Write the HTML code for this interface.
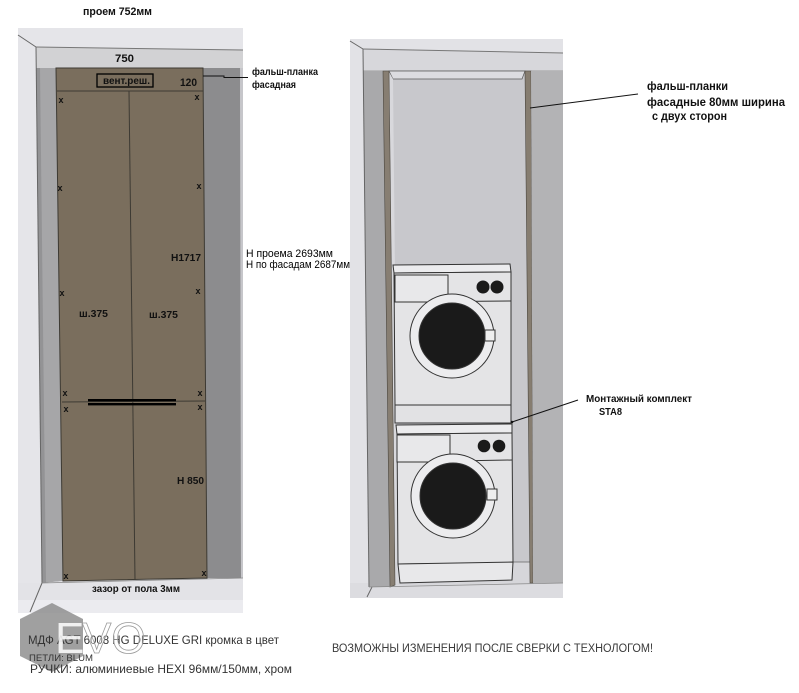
<!DOCTYPE html>
<html><head><meta charset="utf-8"><style>
html,body{margin:0;padding:0;background:#fff;}
svg{display:block;}
text{font-family:"Liberation Sans","DejaVu Sans",sans-serif;}
</style></head><body>
<svg width="799" height="693" viewBox="0 0 799 693" xmlns="http://www.w3.org/2000/svg">
<rect width="799" height="693" fill="#fff"/>

<!-- LEFT PANEL -->
<rect x="18" y="28" width="225" height="585" fill="#e5e5e9"/>
<rect x="18" y="600" width="225" height="13" fill="#ebebef"/>
<line x1="18" y1="35" x2="36" y2="47" stroke="#666" stroke-width="1"/>
<polygon points="36,47 243,50 243,68 36,68" fill="#d2d2d4"/>
<line x1="36" y1="47" x2="243" y2="50" stroke="#777" stroke-width="1"/>
<polygon points="36,68 56,68 63,581 42,583" fill="#a6a6a8"/>
<polygon points="36,68 40,68 46,583 42,583" fill="#939395"/>
<line x1="36" y1="47" x2="42" y2="583" stroke="#666" stroke-width="1"/>
<polygon points="203,68 240,68 243,578 207,578" fill="#8c8c8e"/>
<polygon points="240,68 243,68 243,578 241,578" fill="#c6c6ca"/>
<polygon points="42,583 63,581 207,578 243,578 243,600 18,600 18,583" fill="#e3e3e7"/>
<line x1="42" y1="583" x2="243" y2="578" stroke="#888" stroke-width="0.8"/>
<line x1="42" y1="583" x2="30" y2="612" stroke="#666" stroke-width="1"/>
<polygon points="56,68 203,68 207,578 63,581" fill="#7a6e5d" stroke="#3d3a33" stroke-width="1"/>
<line x1="57" y1="91" x2="203" y2="91" stroke="#3d3a33" stroke-width="1"/>
<line x1="62" y1="402" x2="205" y2="401" stroke="#3d3a33" stroke-width="1"/>
<line x1="129" y1="91" x2="135" y2="580" stroke="#3d3a33" stroke-width="1"/>
<rect x="88" y="399" width="88" height="2.4" fill="#000"/>
<rect x="88" y="403" width="88" height="2.4" fill="#000"/>

<rect x="97" y="74" width="56" height="13" fill="none" stroke="#000" stroke-width="1.3"/>
<g font-weight="bold" fill="#111">
<text x="83" y="15" font-size="11" textLength="69" lengthAdjust="spacingAndGlyphs">проем 752мм</text>
<text x="115" y="62" font-size="11" textLength="19" lengthAdjust="spacingAndGlyphs">750</text>
<text x="103" y="84" font-size="10" textLength="47" lengthAdjust="spacingAndGlyphs">вент.реш.</text>
<text x="180" y="86" font-size="11" textLength="17" lengthAdjust="spacingAndGlyphs">120</text>
<text x="252" y="75" font-size="10.5" textLength="66" lengthAdjust="spacingAndGlyphs">фальш-планка</text>
<text x="252" y="88" font-size="10.5" textLength="44" lengthAdjust="spacingAndGlyphs">фасадная</text>
<text x="171" y="261" font-size="10.5" textLength="30" lengthAdjust="spacingAndGlyphs">H1717</text>
<text x="79" y="317" font-size="10.5" textLength="29" lengthAdjust="spacingAndGlyphs">ш.375</text>
<text x="149" y="318" font-size="10.5" textLength="29" lengthAdjust="spacingAndGlyphs">ш.375</text>
<text x="177" y="484" font-size="10.5" textLength="27" lengthAdjust="spacingAndGlyphs">H 850</text>
<text x="92" y="592" font-size="10.5" textLength="88" lengthAdjust="spacingAndGlyphs">зазор от пола 3мм</text>
</g>
<polyline points="203,76 224,76 224,77.5 248,77.5" fill="none" stroke="#111" stroke-width="1"/>
<g font-weight="bold" fill="#111" font-size="9" text-anchor="middle">
<text x="61" y="103">x</text><text x="197" y="100">x</text>
<text x="60" y="191">x</text><text x="199" y="189">x</text>
<text x="62" y="296">x</text><text x="198" y="294">x</text>
<text x="65" y="396">x</text><text x="200" y="396">x</text>
<text x="66" y="412">x</text><text x="200" y="410">x</text>
<text x="66" y="579">x</text><text x="204" y="576">x</text>
</g>
<g fill="#000" font-size="11">
<text x="246" y="257" textLength="87" lengthAdjust="spacingAndGlyphs">H проема 2693мм</text>
<text x="246" y="268" textLength="104" lengthAdjust="spacingAndGlyphs">H по фасадам 2687мм</text>
</g>

<!-- RIGHT PANEL -->
<rect x="350" y="39" width="213" height="559" fill="#e2e2e6"/>
<line x1="350" y1="41" x2="363" y2="49" stroke="#666" stroke-width="1"/>
<polygon points="363,49 563,53 563,71 363,71" fill="#d7d7db"/>
<line x1="363" y1="49" x2="563" y2="53" stroke="#777" stroke-width="1"/>
<line x1="363" y1="71" x2="563" y2="71" stroke="#888" stroke-width="0.8"/>
<polygon points="350,583 563,583 563,598 350,598" fill="#dcdce0"/>
<polygon points="363,71 383,71 390,587 369,587" fill="#a9a9ab"/>
<line x1="363" y1="49" x2="369" y2="587" stroke="#666" stroke-width="1"/>
<line x1="372" y1="587" x2="367" y2="597" stroke="#666" stroke-width="1"/>
<polygon points="389,71 525,71 530,583 395,585" fill="#c8c8cc"/>
<polygon points="389,71 525,71 522,79 393,79" fill="#dcdce0" stroke="#555" stroke-width="0.7"/>
<polygon points="389,72 393,79 398,565 395,585" fill="#d8d8dc"/>
<polygon points="395,562 530,562 530,583 395,585" fill="#d6d6da"/>
<line x1="512" y1="562" x2="530" y2="562" stroke="#666" stroke-width="0.7"/>
<polygon points="383,71 389,71 395,585 390,587" fill="#877e72" stroke="#4a463f" stroke-width="0.6"/>
<polygon points="525,71 531,71 533,583 530,583" fill="#867d70" stroke="#4a463f" stroke-width="0.6"/>
<polygon points="531,71 563,71 563,583 533,583" fill="#b3b3b5"/>
<line x1="369" y1="587" x2="563" y2="583" stroke="#888" stroke-width="0.8"/>

<!-- upper machine -->
<g stroke="#333" stroke-width="1">
<polygon points="393,265 510,264 511,272 394,273" fill="#ececee"/>
<polygon points="394,273 511,272 511,405 395,405" fill="#e4e4e6"/>
<line x1="395" y1="302" x2="511" y2="301"/>
<rect x="395" y="275" width="53" height="27" fill="#e8e8ea"/>
<circle cx="452" cy="336" r="42" fill="#ececee"/>
<circle cx="452" cy="336" r="33" fill="#1a1a1a"/>
<rect x="485" y="330" width="10" height="11" fill="#eeeeee"/>
<polygon points="395,405 511,405 511,423 395,423" fill="#e2e2e4"/>
<!-- lower machine -->
<polygon points="396,425 512,424 512,433 397,434" fill="#ececee"/>
<polygon points="397,434 512,433 513,563 398,564" fill="#e4e4e6"/>
<line x1="397" y1="462" x2="512" y2="460"/>
<rect x="397" y="435" width="53" height="27" fill="#e8e8ea"/>
<circle cx="453" cy="496" r="42" fill="#ececee"/>
<circle cx="453" cy="496" r="33" fill="#1a1a1a"/>
<rect x="487" y="489" width="10" height="11" fill="#eeeeee"/>
<polygon points="398,564 513,562 512,580 400,583" fill="#e8e8ea"/>
</g>
<g fill="#1a1a1a">
<circle cx="483" cy="287" r="6.5"/><circle cx="497" cy="287" r="6.5"/>
<circle cx="484" cy="446" r="6.3"/><circle cx="499" cy="446" r="6.3"/>
</g>

<line x1="530" y1="108" x2="638" y2="94" stroke="#111" stroke-width="1"/>
<line x1="512" y1="422" x2="578" y2="400" stroke="#111" stroke-width="1"/>
<circle cx="512" cy="422" r="1.3" fill="#111"/>
<g font-weight="bold" fill="#111">
<text x="647" y="90" font-size="11.5" textLength="81" lengthAdjust="spacingAndGlyphs">фальш-планки</text>
<text x="647" y="106" font-size="11.5" textLength="138" lengthAdjust="spacingAndGlyphs">фасадные 80мм ширина</text>
<text x="652" y="120" font-size="11.5" textLength="75" lengthAdjust="spacingAndGlyphs">с двух сторон</text>
<text x="586" y="402" font-size="10" textLength="106" lengthAdjust="spacingAndGlyphs">Монтажный комплект</text>
<text x="599" y="415" font-size="10" textLength="23" lengthAdjust="spacingAndGlyphs">STA8</text>
</g>

<!-- watermark hexagon -->
<polygon points="52,603 83,619 83,656 52,672 20,656 20,619" fill="#8f8f8f" opacity="0.85"/>

<!-- bottom texts -->
<g fill="#333">
<text x="28" y="644" font-size="12" textLength="251" lengthAdjust="spacingAndGlyphs">МДФ AGT 6008 HG DELUXE GRI кромка в цвет</text>
<text x="29" y="661" font-size="9.5" textLength="64" lengthAdjust="spacingAndGlyphs">ПЕТЛИ: BLUM</text>
<text x="30" y="673" font-size="12" textLength="262" lengthAdjust="spacingAndGlyphs">РУЧКИ: алюминиевые HEXI 96мм/150мм, хром</text>
</g>
<text x="332" y="652" font-size="11.5" fill="#3a3a3a" textLength="321" lengthAdjust="spacingAndGlyphs">ВОЗМОЖНЫ ИЗМЕНЕНИЯ ПОСЛЕ СВЕРКИ С ТЕХНОЛОГОМ!</text>

<!-- watermark letters -->
<text x="55" y="653" font-size="44" fill="#ffffff" opacity="0.85">E</text>
<text x="82" y="653" font-size="44" fill="#ffffff" fill-opacity="0.35" stroke="#9a9a9a" stroke-width="0.8">VO</text>
</svg>
</body></html>
